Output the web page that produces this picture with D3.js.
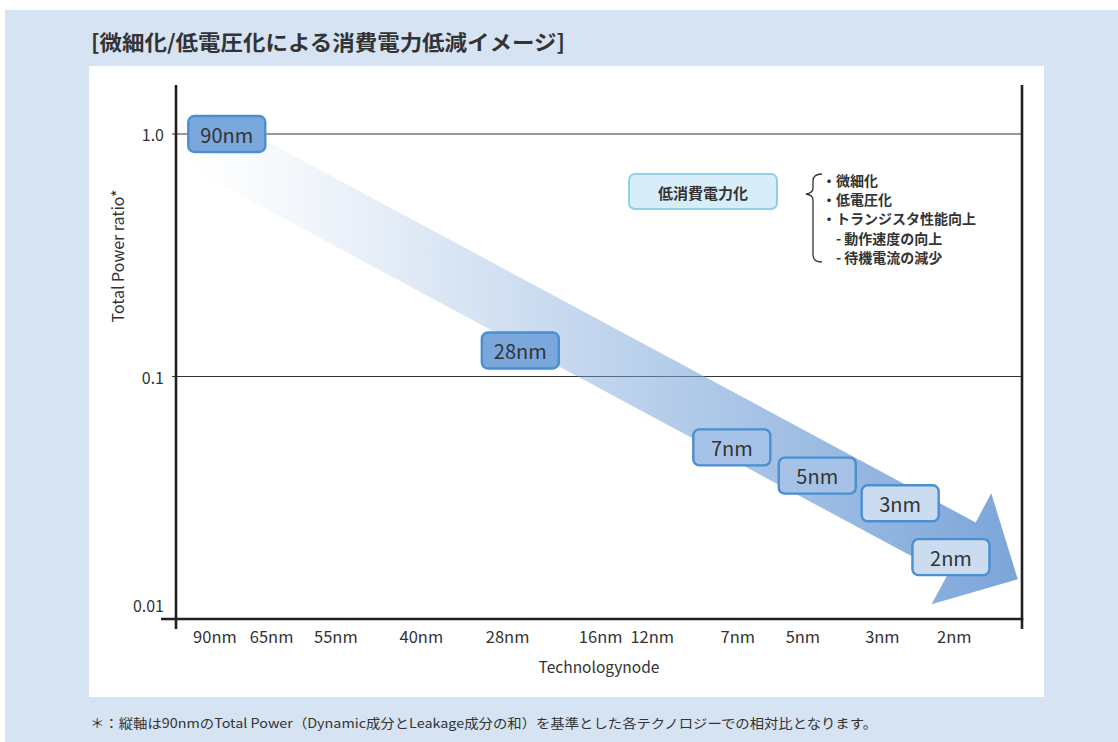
<!DOCTYPE html>
<html>
<head>
<meta charset="utf-8">
<script src="https://cdn.jsdelivr.net/npm/d3@7"></script>
<style>
  html, body { margin: 0; padding: 0; background: #fff; }
  svg { display: block; }
  text { font-family: "Noto Sans CJK JP", "Noto Sans", sans-serif; fill: #333; }
</style>
</head>
<body>
<main></main>
<script>
// power ratio vs technology node, log scale, big fading arrow

// x axis categories and where they sit along the axis (0..100 axis units)
const nodes   = ["90nm", "65nm", "55nm", "40nm", "28nm", "16nm", "12nm", "7nm", "5nm", "3nm", "2nm"];
const nodePos = [4.6, 11.3, 18.9, 29.0, 39.2, 50.2, 56.3, 66.4, 74.1, 83.5, 92.0];

// labelled nodes on the arrow
const labelNodes = ["90nm", "28nm", "7nm", "5nm", "3nm", "2nm"];
const labelPos   = [6.0, 40.7, 65.7, 75.8, 85.6, 91.6];
const labelRatio = [1.0, 0.128, 0.051, 0.039, 0.030, 0.018];

// y ticks
const yTicks      = [1.0, 0.1, 0.01];
const yTickLabels = ["1.0", "0.1", "0.01"];

// arrow, tail -> tip (axis units, ratio)
const arrowFrom = [1.65, 1.0];
const arrowTo   = [99.5, 0.0146];

// legend
const legendLabel = "低消費電力化";
const legendItems = ["・微細化", "・低電圧化", "・トランジスタ性能向上", "\u3000- 動作速度の向上", "\u3000- 待機電流の減少"];

const titleText = "[微細化/低電圧化による消費電力低減イメージ]";
const noteText  = "＊：縦軸は90nmのTotal Power（Dynamic成分とLeakage成分の和）を基準とした各テクノロジーでの相対比となります。";

let width = 1118,
    height = 742;

let axisColor = "#231f20";
let boxStroke = "#4a8fd0";

let svg = d3.select("main").append("svg")
  .attr("width", width)
  .attr("height", height);

// backdrop
svg.append("rect").attr("x", 5).attr("y", 10).attr("width", width - 5).attr("height", height - 10).attr("fill", "#d6e3f3");
svg.append("rect").attr("x", 89).attr("y", 66).attr("width", 955).attr("height", 631).attr("fill", "#fff");

svg.append("text")
  .attr("x", 91).attr("y", 41)
  .attr("dominant-baseline", "central")
  .attr("font-size", 21).attr("font-weight", "bold")
  .attr("textLength", 474).attr("lengthAdjust", "spacingAndGlyphs")
  .text(titleText);

svg.append("text")
  .attr("x", 90).attr("y", 722)
  .attr("dominant-baseline", "central")
  .attr("font-size", 13)
  .attr("textLength", 787).attr("lengthAdjust", "spacingAndGlyphs")
  .text(noteText);

// scales
let x = d3.scaleLinear().domain([0, 100]).range([176, 1022]);
let y = d3.scaleLog().domain([0.01, 1]).range([619, 134]);
let yTop = 85;

let defs = svg.append("defs");
let grad = defs.append("linearGradient")
  .attr("id", "arrowGrad")
  .attr("gradientUnits", "userSpaceOnUse")
  .attr("x1", x(arrowFrom[0])).attr("y1", 0)
  .attr("x2", x(arrowTo[0])).attr("y2", 0);
grad.append("stop").attr("offset", 0).attr("stop-color", "#7ba5d9").attr("stop-opacity", 0);
grad.append("stop").attr("offset", 0.12).attr("stop-color", "#7ba5d9").attr("stop-opacity", 0.08);
grad.append("stop").attr("offset", 1).attr("stop-color", "#7ba5d9").attr("stop-opacity", 1);

// gridlines
svg.append("g")
  .selectAll("line")
  .data(yTicks.slice(0, 2))
  .enter().append("line")
  .attr("x1", x(0) - 4).attr("x2", x(100))
  .attr("y1", d => y(d)).attr("y2", d => y(d))
  .attr("stroke", "#333").attr("stroke-width", 1.2);

// arrow
function arrowPath() {
  let x0 = x(arrowFrom[0]), y0 = y(arrowFrom[1]);
  let x1 = x(arrowTo[0]),   y1 = y(arrowTo[1]);
  let len = Math.hypot(x1 - x0, y1 - y0);
  let ux = (x1 - x0) / len, uy = (y1 - y0) / len;
  let nx = -uy, ny = ux;
  let shaft = 30, head = 63, headLen = 64;
  let bx = x1 - ux * headLen, by = y1 - uy * headLen;
  let pts = [
    [x0 + nx * shaft, y0 + ny * shaft],
    [bx + nx * shaft, by + ny * shaft],
    [bx + nx * head,  by + ny * head],
    [x1, y1],
    [bx - nx * head,  by - ny * head],
    [bx - nx * shaft, by - ny * shaft],
    [x0 - nx * shaft, y0 - ny * shaft]
  ];
  return "M" + pts.map(p => p[0].toFixed(2) + "," + p[1].toFixed(2)).join("L") + "Z";
}

svg.append("path")
  .attr("d", arrowPath())
  .attr("fill", "url(#arrowGrad)");

// axes lines
svg.append("line").attr("x1", x(0)).attr("x2", x(0)).attr("y1", yTop).attr("y2", 629)
  .attr("stroke", axisColor).attr("stroke-width", 2.6);
svg.append("line").attr("x1", x(100)).attr("x2", x(100)).attr("y1", yTop).attr("y2", 629)
  .attr("stroke", axisColor).attr("stroke-width", 2.6);
svg.append("line").attr("x1", 161).attr("x2", x(100) + 1.3).attr("y1", y(0.01)).attr("y2", y(0.01))
  .attr("stroke", axisColor).attr("stroke-width", 2.6);

// y tick labels
svg.append("g")
  .selectAll("text")
  .data(yTicks)
  .enter().append("text")
  .attr("x", 164)
  .attr("y", d => d === 0.01 ? y(d) - 14 : y(d))
  .attr("text-anchor", "end")
  .attr("dominant-baseline", "central")
  .attr("font-size", 16)
  .attr("fill", "#444")
  .text((d, i) => yTickLabels[i]);

svg.append("text")
  .attr("transform", "translate(117,256) rotate(-90)")
  .attr("text-anchor", "middle")
  .attr("dominant-baseline", "central")
  .attr("font-size", 16)
  .text("Total Power ratio*");

// x tick labels
svg.append("g")
  .selectAll("text")
  .data(nodes)
  .enter().append("text")
  .attr("x", (d, i) => x(nodePos[i]))
  .attr("y", 636)
  .attr("text-anchor", "middle")
  .attr("dominant-baseline", "central")
  .attr("font-size", 16.5)
  .text(d => d);

svg.append("text")
  .attr("x", 599).attr("y", 666)
  .attr("text-anchor", "middle")
  .attr("dominant-baseline", "central")
  .attr("font-size", 15.5)
  .text("Technologynode");

// node boxes on the arrow
let tone = d3.scaleThreshold()
  .domain([0.035, 0.1])
  .range(["#cbdcf1", "#a7c2e7", "#7aa7dc"]);

let boxW = 77, boxH = 36;
let boxes = svg.append("g")
  .selectAll("g")
  .data(labelNodes)
  .enter().append("g")
  .attr("transform", (d, i) => `translate(${x(labelPos[i])},${y(labelRatio[i])})`);

boxes.append("rect")
  .attr("x", -boxW / 2).attr("y", -boxH / 2)
  .attr("width", boxW).attr("height", boxH)
  .attr("rx", 6)
  .attr("fill", (d, i) => tone(labelRatio[i]))
  .attr("stroke", boxStroke).attr("stroke-width", 2.4);

boxes.append("text")
  .attr("text-anchor", "middle")
  .attr("dominant-baseline", "central")
  .attr("font-size", 20)
  .attr("fill", "#2b2b2b")
  .text(d => d);

// legend box
let lg = svg.append("g").attr("transform", "translate(703,192)");
lg.append("rect")
  .attr("x", -74).attr("y", -18).attr("width", 148).attr("height", 35)
  .attr("rx", 6)
  .attr("fill", "#d7eefa").attr("stroke", "#8fd2e6").attr("stroke-width", 2);
lg.append("text")
  .attr("text-anchor", "middle")
  .attr("dominant-baseline", "central")
  .attr("font-size", 15).attr("font-weight", "bold")
  .text(legendLabel);

// brace
svg.append("path")
  .attr("d", "M822,174 Q813,174 813,181 L813,188 Q813,193 806,194 Q813,195 813,200 L813,255 Q813,262 822,262")
  .attr("fill", "none").attr("stroke", "#333").attr("stroke-width", 1.3);

svg.append("g")
  .selectAll("text")
  .data(legendItems)
  .enter().append("text")
  .attr("x", 822)
  .attr("y", (d, i) => 180 + i * 19.2)
  .attr("dominant-baseline", "central")
  .attr("font-size", 14).attr("font-weight", "bold")
  .text(d => d);
</script>
</body>
</html>
